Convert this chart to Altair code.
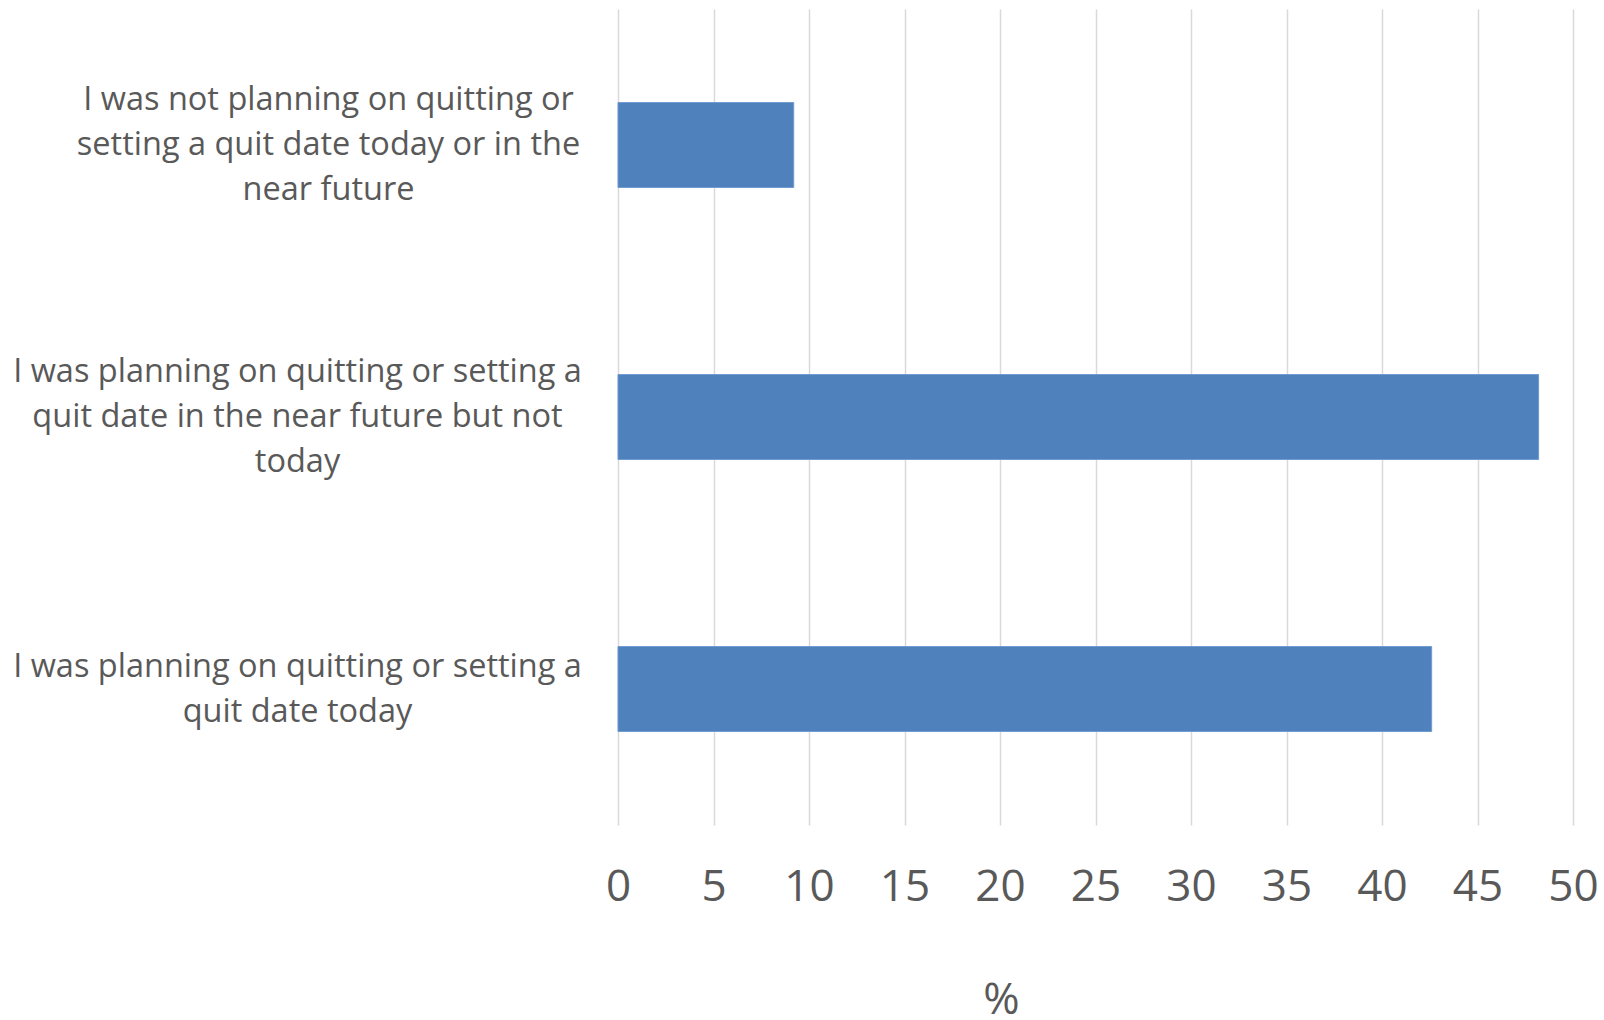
import altair as alt
import pandas as pd

categories = [
    "I was not planning on quitting or\nsetting a quit date today or in the\nnear future",
    "I was planning on quitting or setting a\nquit date in the near future but not\ntoday",
    "I was planning on quitting or setting a\nquit date today",
]
values = [9.2, 48.2, 42.6]
x_ticks = [0, 5, 10, 15, 20, 25, 30, 35, 40, 45, 50]

df = pd.DataFrame({"category": categories, "pct": values})

FONT = "Open Sans"
GRAY = "#595959"

chart = (
    alt.Chart(df)
    .mark_bar(color="#4f81bd", stroke="#6f9bd1", strokeWidth=1)
    .encode(
        x=alt.X(
            "pct:Q",
            scale=alt.Scale(domain=[0, 50], nice=False, zero=True),
            axis=alt.Axis(
                values=x_ticks,
                title="%",
                grid=True,
                gridColor="#d9d9d9",
                gridWidth=1.5,
                domain=False,
                ticks=False,
                labelFont=FONT,
                labelFontSize=44,
                labelColor=GRAY,
                labelPadding=62,
                labelBaseline="middle",
                labelFlush=False,
                titleFont=FONT,
                titleFontSize=44,
                titleFontWeight="normal",
                titleColor=GRAY,
                titleAlign="center",
                titleBaseline="alphabetic",
                titleX=383,
                titleY=188,
            ),
        ),
        y=alt.Y(
            "category:N",
            sort=None,
            scale=alt.Scale(paddingInner=0.6875, paddingOuter=0.34375),
            axis=alt.Axis(
                title=None,
                grid=False,
                domain=False,
                ticks=False,
                labelExpr="split(datum.label, '\\n')",
                labelFont=FONT,
                labelFontSize=32.5,
                labelColor=GRAY,
                labelAlign="center",
                labelBaseline="middle",
                labelLineHeight=45,
                labelLimit=0,
                labelPadding=alt.condition(
                    "indexof(datum.value, 'not planning') >= 0",
                    alt.value(290),
                    alt.value(321),
                ),
                labelOffset=alt.condition(
                    "length(split(datum.value, '\\n')) == 2",
                    alt.value(-22.5),
                    alt.value(-45),
                ),
            ),
        ),
    )
    .properties(
        width=955,
        height=816,
        background="white",
        autosize=alt.AutoSizeParams(type="none"),
        padding={"left": 618, "top": 9, "right": 31, "bottom": 195},
    )
    .configure_view(strokeWidth=0, stroke="transparent")
)

chart.save("out.html", embed_options={"renderer": "svg", "actions": False})
